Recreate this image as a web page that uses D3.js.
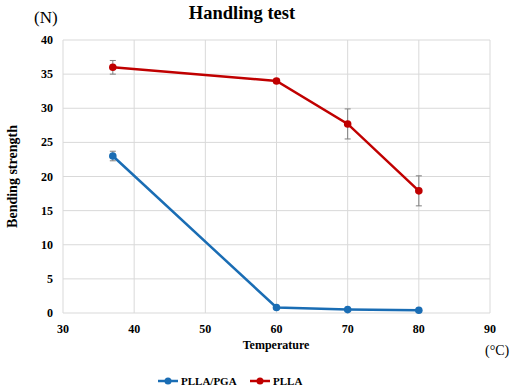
<!DOCTYPE html>
<html>
<head>
<meta charset="utf-8">
<script src="https://cdn.jsdelivr.net/npm/d3@7"></script>
<style>
  body { margin: 0; background: #fff; }
  text { font-family: "Liberation Serif", "Times New Roman", serif; }
</style>
</head>
<body>
<svg id="chart"></svg>
<script>
(() => {
  const width = 513;
  const height = 391;
  const margin = { top: 40, right: 23, bottom: 78, left: 63 };

  // Data
  const temperatures = [37, 60, 70, 80];
  const pllaPgaValues = [23, 0.8, 0.5, 0.4];
  const pllaPgaErrors = [0.7, 0, 0, 0];
  const pllaValues = [36, 34, 27.7, 17.9];
  const pllaErrors = [1.0, 0.3, 2.2, 2.2];
  const xTicks = [30, 40, 50, 60, 70, 80, 90];
  const yTicks = [0, 5, 10, 15, 20, 25, 30, 35, 40];

  const series = [
    { name: "PLLA/PGA", color: "#1a6db4", values: pllaPgaValues, errors: pllaPgaErrors },
    { name: "PLLA", color: "#c00000", values: pllaValues, errors: pllaErrors }
  ];

  const svg = d3.select("#chart")
    .attr("width", width)
    .attr("height", height);

  const x = d3.scaleLinear().domain([30, 90]).range([margin.left, width - margin.right]);
  const y = d3.scaleLinear().domain([0, 40]).range([height - margin.bottom, margin.top]);

  // Gridlines
  svg.append("g")
    .selectAll("line")
    .data(yTicks)
    .join("line")
    .attr("x1", x(30)).attr("x2", x(90))
    .attr("y1", d => y(d)).attr("y2", d => y(d))
    .attr("stroke", "#d9d9d9").attr("stroke-width", 1);

  svg.append("g")
    .selectAll("line")
    .data(xTicks)
    .join("line")
    .attr("x1", d => x(d)).attr("x2", d => x(d))
    .attr("y1", y(0)).attr("y2", y(40))
    .attr("stroke", "#d9d9d9").attr("stroke-width", 1);

  // Tick labels
  svg.append("g")
    .selectAll("text")
    .data(yTicks)
    .join("text")
    .attr("x", x(30) - 10)
    .attr("y", d => y(d) + 4)
    .attr("text-anchor", "end")
    .attr("font-size", 12)
    .attr("font-weight", "bold")
    .text(d => d);

  svg.append("g")
    .selectAll("text")
    .data(xTicks)
    .join("text")
    .attr("x", d => x(d))
    .attr("y", y(0) + 20)
    .attr("text-anchor", "middle")
    .attr("font-size", 12)
    .attr("font-weight", "bold")
    .text(d => d);

  // Lines, error bars and markers
  const line = d3.line()
    .x((d, i) => x(temperatures[i]))
    .y(d => y(d));

  series.forEach(s => {
    svg.append("path")
      .datum(s.values)
      .attr("fill", "none")
      .attr("stroke", s.color)
      .attr("stroke-width", 2.5)
      .attr("d", line);

    const eb = svg.append("g")
      .selectAll("g")
      .data(s.values.map((v, i) => ({ t: temperatures[i], v, e: s.errors[i] })).filter(d => d.e > 0))
      .join("g")
      .attr("stroke", "#7f7f7f")
      .attr("stroke-width", 1);
    eb.append("line")
      .attr("x1", d => x(d.t)).attr("x2", d => x(d.t))
      .attr("y1", d => y(d.v - d.e)).attr("y2", d => y(d.v + d.e));
    eb.append("line")
      .attr("x1", d => x(d.t) - 3).attr("x2", d => x(d.t) + 3)
      .attr("y1", d => y(d.v + d.e)).attr("y2", d => y(d.v + d.e));
    eb.append("line")
      .attr("x1", d => x(d.t) - 3).attr("x2", d => x(d.t) + 3)
      .attr("y1", d => y(d.v - d.e)).attr("y2", d => y(d.v - d.e));

    svg.append("g")
      .selectAll("circle")
      .data(s.values)
      .join("circle")
      .attr("cx", (d, i) => x(temperatures[i]))
      .attr("cy", d => y(d))
      .attr("r", 3.8)
      .attr("fill", s.color);
  });

  // Titles
  svg.append("text")
    .attr("x", 242).attr("y", 19)
    .attr("text-anchor", "middle")
    .attr("font-size", 18.5)
    .attr("font-weight", "bold")
    .text("Handling test");

  svg.append("text")
    .attr("x", 34).attr("y", 23)
    .attr("font-size", 17)
    .text("(N)");

  svg.append("text")
    .attr("transform", `translate(17, ${(y(0) + y(40)) / 2}) rotate(-90)`)
    .attr("text-anchor", "middle")
    .attr("font-size", 14)
    .attr("font-weight", "bold")
    .text("Bending strength");

  svg.append("text")
    .attr("x", 276).attr("y", 349)
    .attr("text-anchor", "middle")
    .attr("font-size", 12)
    .attr("font-weight", "bold")
    .text("Temperature");

  svg.append("text")
    .attr("x", 485).attr("y", 355)
    .attr("font-size", 14)
    .text("(°C)");

  // Legend
  const legend = svg.append("g");
  const legendX = [158, 250];
  series.forEach((s, i) => {
    const g = legend.append("g").attr("transform", `translate(${legendX[i]}, 381)`);
    g.append("line")
      .attr("x1", 0).attr("x2", 20)
      .attr("stroke", s.color).attr("stroke-width", 2.5);
    g.append("circle").attr("cx", 10).attr("r", 3.5).attr("fill", s.color);
    g.append("text")
      .attr("x", 23).attr("y", 4)
      .attr("font-size", 11)
      .attr("font-weight", "bold")
      .text(s.name);
  });
})();
</script>
</body>
</html>
